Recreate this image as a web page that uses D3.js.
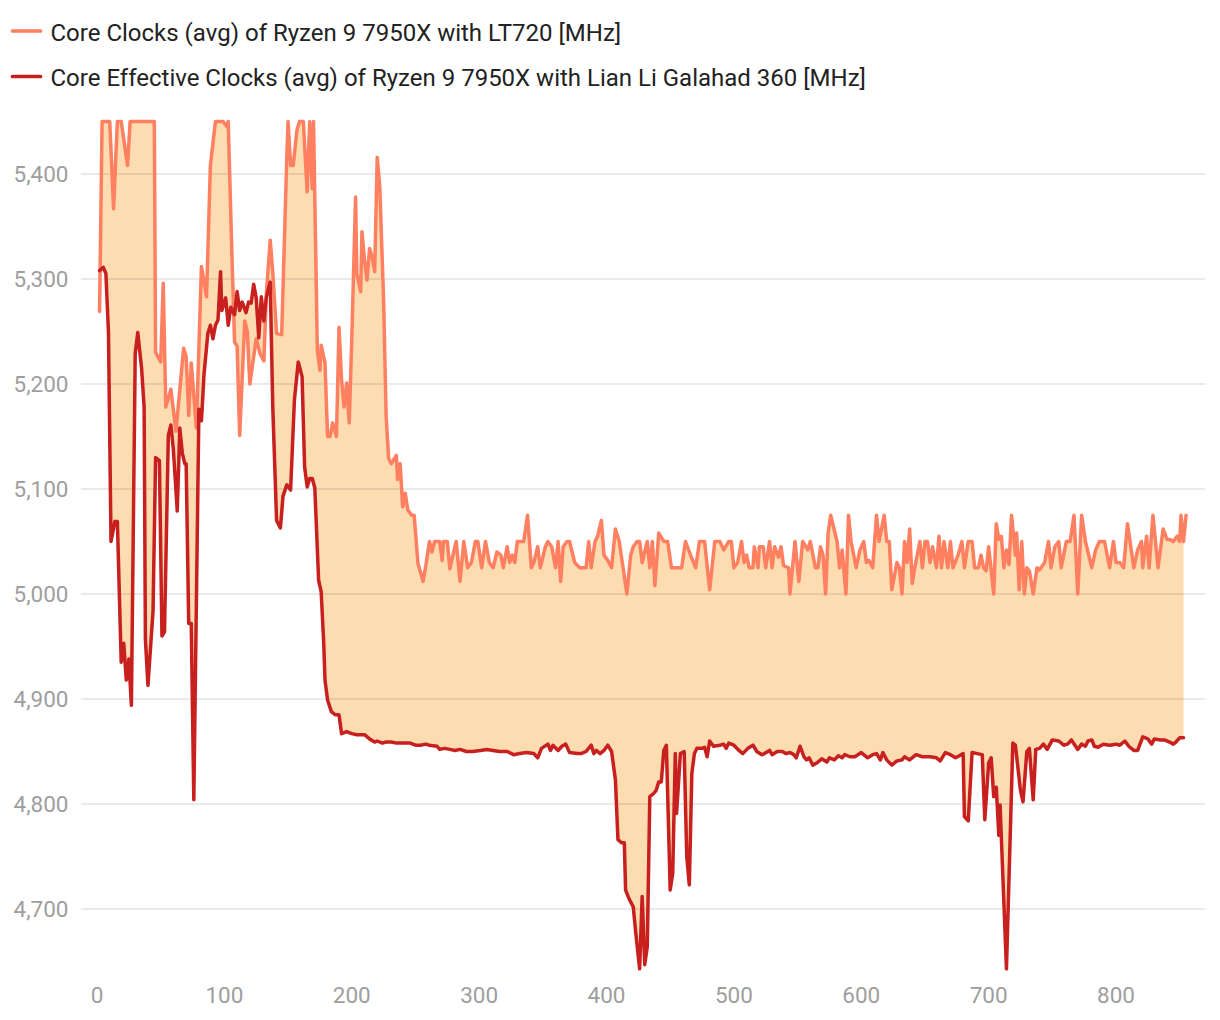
<!DOCTYPE html>
<html><head><meta charset="utf-8">
<script src="https://cdn.jsdelivr.net/npm/d3@7"></script>
<style>body{margin:0;background:#fff;font-family:Roboto,"Noto Sans",sans-serif;}</style>
</head><body><svg id="c" width="1220" height="1020"></svg>
<script>
const seriesNames = [
  "Core Clocks (avg) of Ryzen 9 7950X with LT720 [MHz]",
  "Core Effective Clocks (avg) of Ryzen 9 7950X with Lian Li Galahad 360 [MHz]"
];
const yTicks = [4700, 4800, 4900, 5000, 5100, 5200, 5300, 5400];
const xTicks = [0, 100, 200, 300, 400, 500, 600, 700, 800];

const clocksX = [2,4,10,13,16,19,24,26,45,46,50,52,54,58,62,68,70,72,74,78,82,86,89,93,99,102,103,106,108,110,112,116,118,120,123,125,128,131,133,136,138,141,145,149,150,152,154,157,159,162,165,167,169,170,173,175,176,179,181,183,185,188,190,192,194,196,198,200,203,204,207,208,210,212,214,216,218,220,222,225,227,229,231,235,236,238,240,242,244,247,249,252,256,258,261,263,265,269,271,272,275,277,282,285,288,291,294,297,299,302,305,308,311,314,317,319,322,324,326,328,330,333,335,338,341,343,346,348,352,354,357,360,362,364,366,369,371,375,379,384,386,388,391,393,396,398,401,404,407,410,413,416,419,421,424,426,428,432,434,436,438,441,445,448,451,455,459,462,466,470,473,477,481,485,489,492,496,498,500,503,506,508,510,512,515,516,519,520,523,525,528,530,532,535,537,539,543,544,548,551,554,558,560,564,566,568,570,572,574,576,581,583,585,588,590,592,596,599,602,604,606,609,612,614,618,620,622,624,628,630,632,634,636,638,640,642,646,648,650,652,654,656,659,661,663,665,668,670,672,676,679,681,684,687,689,692,694,696,698,700,704,706,708,710,712,714,716,718,721,722,724,726,728,730,732,735,738,740,744,747,749,752,755,757,761,764,767,770,773,776,781,784,787,791,795,798,800,803,806,809,812,814,817,820,821,824,826,829,833,837,840,842,845,848,850,851,853,855];
const clocksMHz = [5269,5450,5450,5367,5450,5450,5408,5450,5450,5230,5221,5296,5178,5195,5155,5234,5226,5170,5220,5158,5312,5283,5408,5450,5450,5445,5450,5320,5240,5236,5151,5260,5250,5200,5226,5243,5229,5222,5287,5337,5306,5248,5247,5416,5450,5408,5408,5442,5450,5450,5383,5450,5386,5450,5232,5213,5237,5220,5150,5150,5163,5150,5254,5204,5178,5201,5163,5242,5378,5305,5288,5345,5318,5299,5329,5321,5307,5416,5388,5280,5169,5129,5124,5132,5109,5124,5083,5096,5080,5075,5075,5029,5012,5026,5050,5040,5050,5050,5032,5050,5050,5024,5050,5012,5050,5025,5030,5050,5050,5025,5050,5030,5025,5040,5037,5025,5045,5030,5037,5030,5050,5050,5050,5075,5025,5030,5045,5025,5045,5050,5045,5025,5050,5012,5045,5050,5050,5030,5025,5025,5050,5025,5050,5055,5070,5037,5032,5025,5062,5050,5025,5000,5037,5045,5050,5050,5030,5050,5025,5050,5008,5058,5050,5050,5025,5025,5025,5050,5037,5025,5050,5050,5004,5050,5050,5042,5050,5050,5025,5030,5050,5030,5037,5025,5025,5045,5025,5045,5045,5025,5050,5025,5045,5035,5045,5027,5025,5000,5050,5012,5050,5042,5050,5025,5025,5045,5037,5000,5058,5075,5050,5025,5042,5000,5075,5050,5025,5042,5050,5030,5032,5025,5075,5050,5075,5050,5050,5004,5030,5025,5000,5050,5030,5062,5010,5025,5050,5025,5050,5050,5030,5045,5025,5055,5025,5050,5025,5050,5025,5037,5050,5025,5050,5050,5025,5025,5037,5025,5022,5045,5000,5067,5052,5055,5025,5042,5028,5075,5037,5058,5004,5050,5000,5025,5022,5000,5025,5023,5030,5050,5025,5045,5050,5025,5050,5050,5075,5000,5075,5050,5025,5042,5050,5050,5025,5050,5030,5030,5025,5067,5042,5025,5042,5050,5025,5055,5025,5075,5025,5062,5052,5052,5050,5055,5050,5075,5050,5075];

const effX = [2,5,7,9,11,14,16,19,21,23,25,27,30,32,35,37,38,40,44,46,49,51,53,56,58,60,63,65,67,69,70,72,74,76,80,82,84,87,89,91,93,95,97,98,101,103,105,108,110,112,114,117,119,121,123,125,127,129,131,133,136,138,141,144,146,149,152,155,158,161,163,165,167,169,171,174,176,178,179,181,184,187,190,192,196,200,204,210,214,218,220,224,227,231,235,239,243,246,250,254,258,261,267,269,273,277,281,285,290,295,301,306,311,316,322,327,332,337,343,346,349,354,356,358,362,365,368,371,377,380,384,388,390,392,395,398,401,404,407,409,412,414,415,418,421,423,426,428,430,432,434,437,439,441,443,445,447,450,452,454,455,458,461,463,465,467,469,471,475,477,479,481,484,489,492,494,496,500,504,507,511,515,518,522,524,528,530,534,538,541,544,547,549,552,555,557,559,562,565,569,573,575,579,582,585,587,591,595,600,605,609,612,615,617,620,624,628,632,634,638,643,648,654,659,662,666,670,674,677,680,681,684,687,691,695,697,700,702,704,706,708,709,714,719,721,725,727,730,732,735,737,740,743,746,750,755,759,762,765,770,773,776,778,781,783,786,790,795,800,803,807,810,814,817,821,825,828,830,835,838,842,845,847,850,853];
const effMHz = [5308,5311,5305,5249,5050,5069,5069,4935,4953,4918,4938,4894,5229,5249,5215,5178,4957,4913,4984,5130,5127,4960,4964,5151,5161,5137,5079,5158,5134,5124,5124,4972,4972,4804,5176,5165,5209,5248,5256,5243,5256,5261,5307,5270,5282,5256,5273,5266,5288,5270,5278,5268,5278,5277,5295,5282,5244,5283,5260,5283,5297,5178,5070,5063,5093,5104,5099,5185,5221,5207,5121,5102,5110,5110,5101,5013,5002,4953,4918,4899,4888,4885,4885,4867,4869,4867,4866,4866,4862,4859,4860,4858,4859,4859,4858,4858,4858,4858,4856,4856,4857,4856,4855,4852,4853,4852,4851,4852,4850,4850,4851,4852,4851,4850,4850,4847,4848,4849,4848,4844,4853,4857,4851,4856,4851,4855,4857,4849,4848,4848,4850,4856,4848,4851,4848,4851,4856,4850,4823,4766,4763,4763,4718,4709,4702,4677,4643,4712,4647,4664,4807,4810,4813,4821,4821,4851,4856,4718,4734,4848,4791,4848,4850,4750,4723,4829,4848,4853,4853,4854,4845,4860,4855,4856,4857,4853,4858,4856,4851,4848,4853,4856,4850,4847,4848,4851,4847,4850,4850,4848,4849,4847,4844,4855,4845,4842,4844,4837,4839,4843,4840,4844,4842,4846,4844,4847,4845,4845,4849,4844,4847,4848,4842,4849,4842,4837,4841,4842,4845,4842,4847,4845,4845,4844,4841,4849,4847,4844,4846,4848,4788,4784,4849,4848,4847,4785,4839,4844,4807,4816,4770,4799,4643,4858,4856,4813,4802,4850,4853,4804,4852,4853,4857,4852,4861,4860,4856,4857,4861,4852,4857,4855,4860,4861,4855,4854,4857,4856,4857,4856,4860,4855,4851,4851,4864,4862,4857,4862,4861,4861,4859,4857,4859,4863,4863];

const colors = ["#ff7f61", "#c81f1f"];
const fillColor = "#fddcb2";

const svg = d3.select("#c");
const x = d3.scaleLinear().domain([0, 800]).range([97, 1116]);
const y = d3.scaleLinear().domain([4650, 5450]).range([961.5, 121.5]);

const clocks = clocksX.map((d, i) => ({x: d, v: clocksMHz[i]}));
const eff = effX.map((d, i) => ({x: d, v: effMHz[i]}));
const line = d3.line().x(d => x(d.x)).y(d => y(d.v));

// fill between the two series
const lastEff = eff[eff.length - 1].x;
const poly = clocks.filter(d => d.x <= lastEff).concat(eff.slice().reverse());
svg.append("path").attr("d", line(poly) + "Z").attr("fill", fillColor).attr("stroke", "none");

// grid + y labels
const gy = svg.append("g");
yTicks.forEach(t => {
  gy.append("line").attr("x1", 81).attr("x2", 1205).attr("y1", y(t)).attr("y2", y(t))
    .attr("stroke", "rgba(0,0,0,0.11)").attr("stroke-width", 1.5);
  gy.append("text").attr("x", 68.5).attr("y", y(t)).attr("dy", "0.36em")
    .attr("text-anchor", "end").attr("font-size", 22.5).attr("fill", "#9e9e9e")
    .text(d3.format(",")(t));
});
xTicks.forEach(t => {
  svg.append("text").attr("x", x(t)).attr("y", 1003).attr("text-anchor", "middle")
    .attr("font-size", 22.5).attr("fill", "#9e9e9e").text(t);
});

svg.append("path").attr("d", line(clocks)).attr("fill", "none").attr("stroke", colors[0])
  .attr("stroke-width", 3.5).attr("stroke-linejoin", "round").attr("stroke-linecap", "round");
svg.append("path").attr("d", line(eff)).attr("fill", "none").attr("stroke", colors[1])
  .attr("stroke-width", 3.5).attr("stroke-linejoin", "round").attr("stroke-linecap", "round");

// legend
seriesNames.forEach((n, i) => {
  const yy = 31 + i * 45.5;
  svg.append("line").attr("x1", 12.5).attr("x2", 40.5).attr("y1", yy).attr("y2", yy)
    .attr("stroke", colors[i]).attr("stroke-width", 3.7).attr("stroke-linecap", "round");
  svg.append("text").attr("x", 50.5).attr("y", yy + 9.5)
    .attr("font-size", 24).attr("fill", "#222").text(n);
});
</script></body></html>
